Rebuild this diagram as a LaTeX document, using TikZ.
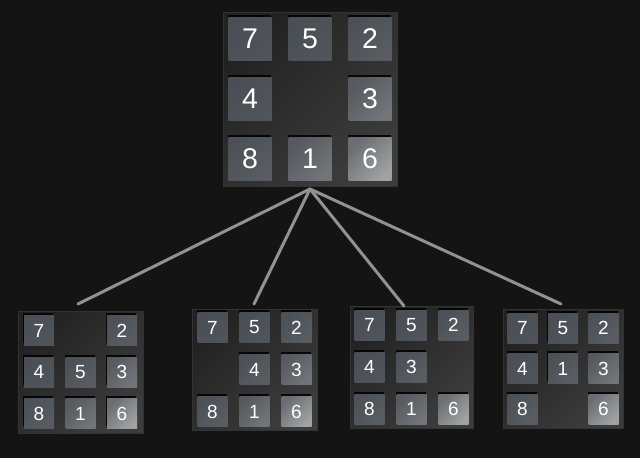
\documentclass[tikz,border=0pt]{standalone}
\usepackage{fontspec}
\usepackage{tikz}
\usetikzlibrary{positioning, calc, shadows}
\newfontfamily\tilefont{Liberation Sans}

\definecolor{bgcol}{HTML}{141414}
\definecolor{boardA}{HTML}{222222}
\definecolor{boardB}{HTML}{3C3C3C}
\definecolor{tileA}{HTML}{4A4F55}
\definecolor{tileB}{HTML}{B4B6B6}
\definecolor{branchcol}{HTML}{929292}

\tikzset{
    board/.style={rectangle, inner sep=0, outer sep=0, draw=black!80, line width=0.6pt,
        top color=boardA, bottom color=boardB, shading angle=45},
    tile/.style={rectangle, inner sep=0, outer sep=0, text=white,
        drop shadow={shadow xshift=-0.6pt, shadow yshift=2.2pt, opacity=0.85, fill=black}},
    branch/.style={draw=branchcol, line width=3pt, line cap=round}
}

% one board with its eight tiles, 0 is the hole
\def\puzzle#1#2#3#4#5#6#7#8#9{%
    \node[board, minimum width=#4, minimum height=#5] (#1) at (#2,#3) {};
    \foreach \lab [count=\k from 0] in {#9}
    {
        \pgfmathtruncatemacro\c{mod(\k,3)}
        \pgfmathtruncatemacro\r{int(\k/3)}
        \pgfmathtruncatemacro\d{\c+\r}
        \pgfmathtruncatemacro\s{max(0,0.5*\d*\d*\d-2)}
        \pgfmathtruncatemacro\e{5+1.2*\d*\d*\d}
        \ifnum\lab>0
            \node[tile, minimum size=#6, font=\tilefont\fontsize{#8}{#8}\selectfont,
                top color=tileB!\s!tileA, bottom color=tileB!\e!tileA, shading angle=45]
                (#1-\lab) at ($(#1.center)+({(\c-1)*#7},{(\r-1)*#7})$) {\lab};
        \fi
    }
}

\begin{document}
\begin{tikzpicture}[x=1pt, y=-1pt]
    % background
    \fill[bgcol] (0,0) rectangle (640,458);
    \useasboundingbox (0,0) rectangle (640,458);

    % parent board
    \puzzle{root}{310}{99}{174pt}{174pt}{43pt}{60}{28.5}{7,5,2,4,0,3,8,1,6}

    % children
    \puzzle{c1}{80.5}{372}{125pt}{122pt}{30pt}{41.5}{19}{7,0,2,4,5,3,8,1,6}
    \puzzle{c2}{254.5}{369.5}{125pt}{121pt}{30pt}{42}{19}{7,5,2,0,4,3,8,1,6}
    \puzzle{c3}{411.5}{367}{123pt}{122pt}{30pt}{42}{19}{7,5,2,4,3,0,8,1,6}
    \puzzle{c4}{563}{368.5}{120pt}{119pt}{30pt}{40.5}{19}{7,5,2,4,1,3,8,0,6}

    % branches
    \foreach \child/\dx/\dy in {c1/-2.5/7, c2/-0.5/5, c3/-7.5/0, c4/-2/5}
    {
        \draw[branch] ([yshift=-3pt]root.south) -- ([xshift=\dx pt, yshift=\dy pt]\child.north);
    }
\end{tikzpicture}
\end{document}
